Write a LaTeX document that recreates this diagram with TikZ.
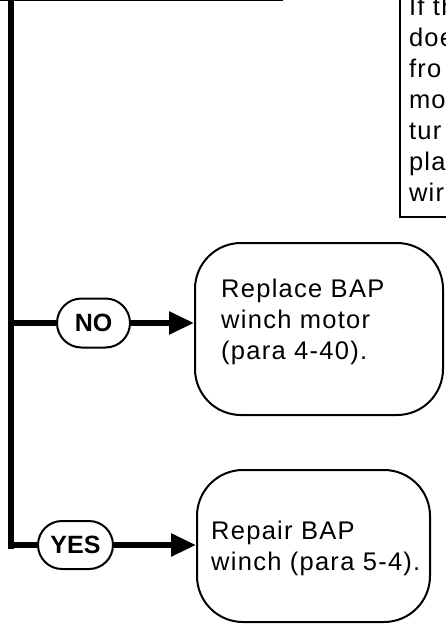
\documentclass[tikz,border=0pt]{standalone}
\usepackage{fontspec}
\setmainfont{Liberation Sans}[LetterSpace=5]
\newfontfamily\pillfont{Liberation Sans}
\usepackage{tikz}
\usetikzlibrary{positioning,arrows.meta,calc,shapes.misc}

\begin{document}
\begin{tikzpicture}[x=1pt, y=-1pt, >={Triangle[length=25pt,width=22pt]},
  every node/.style={font=\fontsize{25.5}{31}\selectfont, align=left},
  outcome/.style={draw, line width=2pt, rounded corners=46pt},
  boxtext/.style={inner sep=0pt, anchor=north west},
  answer/.style={draw, line width=2pt, rounded rectangle, inner sep=0pt,
    font=\pillfont\bfseries\fontsize{25}{28}\selectfont,
    minimum width=73pt, minimum height=49pt},
  trunk/.style={line width=5.5pt}]
  \useasboundingbox (0,0) rectangle (445,624);

  \draw[line width=1.3pt] (0,0.8) -- (283,0.8);

  \node[draw, line width=2pt, anchor=south west, text width=70pt,
    inner xsep=9pt, inner ysep=16pt] (note) at (399,218)
    {If th\\doe\\fro\\mo\\tur\\pla\\wir};

  \coordinate (spinetop) at (11,-5);
  \coordinate (spinebot) at (11,549);
  \draw[trunk] (spinetop) -- (spinebot);

  \node[answer] (no) at (93.5,323) {NO};
  \node[answer, minimum width=75pt, minimum height=48pt] (yes) at (75.5,545) {YES};

  \node[outcome, minimum width=248pt, minimum height=172pt] (replace) at (319,329) {};
  \node[boxtext] (replacetext) at ($(replace.north west)+(27,37)$)
    {Replace BAP\\winch motor\\(para 4-40).};
  \node[outcome, minimum width=233pt, minimum height=152pt] (repair) at (313.5,546) {};
  \node[boxtext] (repairtext) at ($(repair.north west)+(15,52)$)
    {Repair BAP\\winch (para 5-4).};

  \draw[trunk] (no.west -| spinetop) -- (no.west);
  \draw[trunk, ->] (no.east) -- (no.east -| replace.west);
  \draw[trunk] (yes.west -| spinetop) -- (yes.west);
  \draw[trunk, ->] (yes.east) -- (yes.east -| repair.west);
\end{tikzpicture}
\end{document}
